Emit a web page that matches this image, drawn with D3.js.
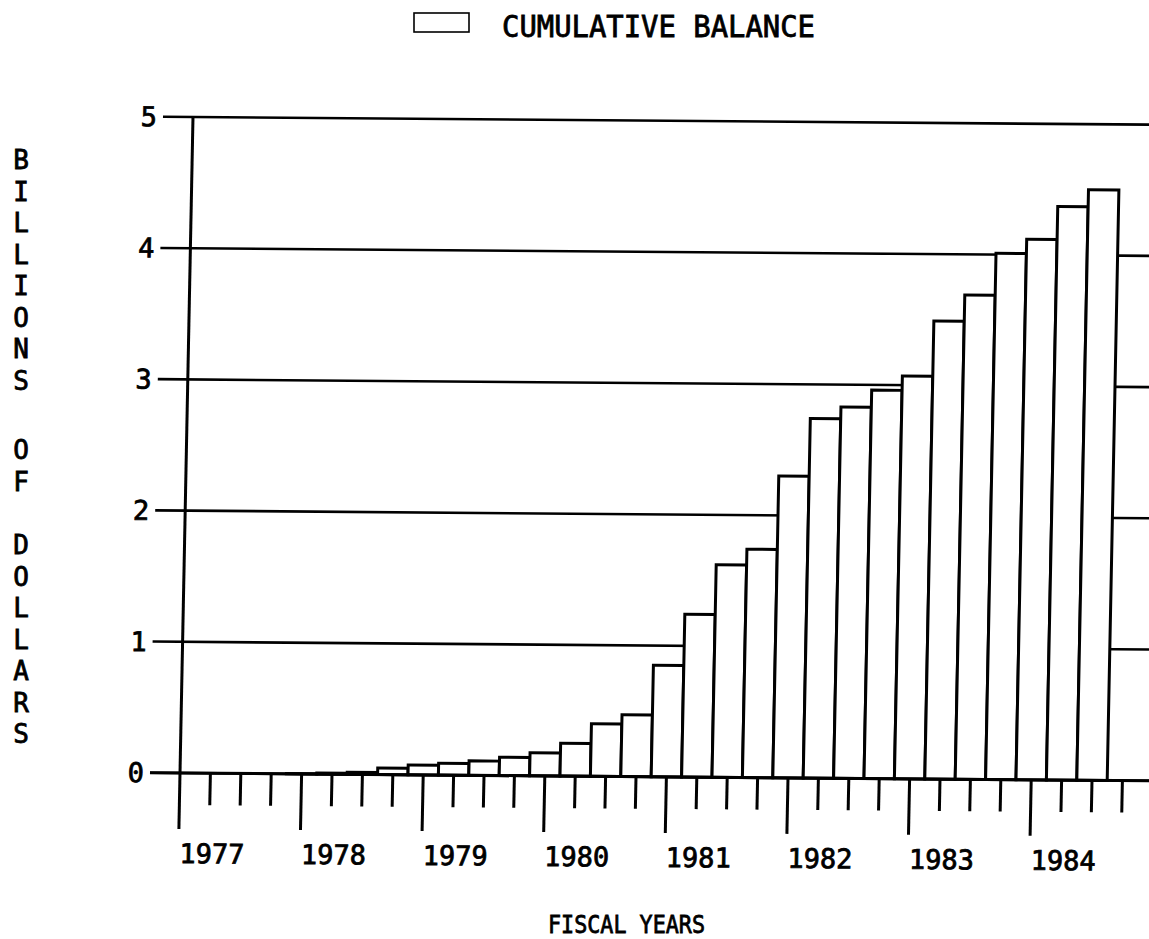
<!DOCTYPE html>
<html>
<head>
<meta charset="utf-8">
<script src="https://cdn.jsdelivr.net/npm/d3@7"></script>
<style>
  html, body { margin: 0; padding: 0; background: #fff; }
  svg { display: block; }
  text { font-family: "DejaVu Sans Mono", "Liberation Mono", monospace; fill: #000; stroke: #000; stroke-width: 0.8px; }
</style>
</head>
<body>
<script>
// ---- data ----
const years = ["1977", "1978", "1979", "1980", "1981", "1982", "1983", "1984"];
const quarterNames = ["Q1", "Q2", "Q3", "Q4"];
const quarters = years.flatMap(y => quarterNames.map(q => y + " " + q));
// cumulative balance, billions of dollars, one value per quarter (1977 Q1 .. 1984 Q3)
const balance = [0, 0, 0, 0, 0.003, 0.008, 0.015, 0.05, 0.075, 0.09, 0.11, 0.14, 0.175, 0.25, 0.40, 0.47,
                 0.85, 1.24, 1.62, 1.74, 2.30, 2.74, 2.83, 2.96, 3.07, 3.49, 3.69, 4.01, 4.12, 4.37, 4.50];
const yTicks = [0, 1, 2, 3, 4, 5];
const legendLabel = "CUMULATIVE BALANCE";
const xTitle = "FISCAL YEARS";
const yTitleWords = ["BILLIONS", "OF", "DOLLARS"];

// ---- layout ----
const W = 1149, H = 939;
const plotH = 656;
const step = 30.4;

const svg = d3.select("body").append("svg").attr("width", W).attr("height", H);

const x = d3.scaleBand().domain(quarters)
  .range([-step / 2, -step / 2 + step * quarters.length]).padding(0);
const y = d3.scaleLinear().domain([0, 5]).range([0, -plotH]);

// plot group (the scanned original is slightly skewed)
const g = svg.append("g").attr("transform", "matrix(1,0.008,-0.0198,1,180,773)");

// gridlines with left ticks
g.append("g").selectAll("line").data(yTicks).join("line")
  .attr("x1", -30).attr("x2", 1010)
  .attr("y1", d => y(d)).attr("y2", d => y(d))
  .attr("stroke", "#000").attr("stroke-width", 2.6);

// y tick labels
g.append("g").selectAll("text").data(yTicks).join("text")
  .attr("x", -36).attr("y", d => y(d))
  .attr("text-anchor", "end").attr("dominant-baseline", "central")
  .attr("font-size", 27).text(d => d);

// bars
g.append("g").selectAll("rect").data(balance).join("rect")
  .attr("x", (d, i) => x(quarters[i]))
  .attr("width", x.bandwidth())
  .attr("y", d => y(d))
  .attr("height", d => y(0) - y(d))
  .attr("fill", "#fff").attr("stroke", "#000").attr("stroke-width", 3);

// y axis line
g.append("line").attr("x1", 0).attr("x2", 0).attr("y1", y(5)).attr("y2", 0)
  .attr("stroke", "#000").attr("stroke-width", 3);

// baseline
g.append("line").attr("x1", -30).attr("x2", 1010).attr("y1", 0).attr("y2", 0)
  .attr("stroke", "#000").attr("stroke-width", 3);

// x ticks (quarters), major at Q1
g.append("g").selectAll("line").data(quarters).join("line")
  .attr("x1", d => x(d) + x.bandwidth() / 2).attr("x2", d => x(d) + x.bandwidth() / 2)
  .attr("y1", 0).attr("y2", d => d.endsWith("Q1") ? 56 : 32)
  .attr("stroke", "#000").attr("stroke-width", 3);

// year labels
g.append("g").selectAll("text").data(years).join("text")
  .attr("x", d => x(d + " Q1") + x.bandwidth() / 2 + 1)
  .attr("y", 90)
  .attr("font-size", 27).text(d => d);

// x title
svg.append("text").attr("x", 548).attr("y", 933)
  .attr("font-size", 25).attr("textLength", 157).attr("lengthAdjust", "spacingAndGlyphs")
  .text(xTitle);

// y title (stacked letters)
const yStarts = [160, 450, 545];
const ySteps = [31.5, 31.5, 31.5];
yTitleWords.forEach((w, wi) => {
  svg.append("g").selectAll("text").data(w.split("")).join("text")
    .attr("x", 21).attr("y", (c, i) => yStarts[wi] + i * ySteps[wi])
    .attr("text-anchor", "middle").attr("dominant-baseline", "central")
    .attr("font-size", 26).text(c => c);
});

// legend
svg.append("rect").attr("x", 414).attr("y", 13).attr("width", 55).attr("height", 19)
  .attr("fill", "#fff").attr("stroke", "#000").attr("stroke-width", 1.6);
svg.append("text").attr("x", 502).attr("y", 36.5).attr("font-size", 29.5)
  .attr("textLength", 313).attr("lengthAdjust", "spacingAndGlyphs").text(legendLabel);
</script>
</body>
</html>
